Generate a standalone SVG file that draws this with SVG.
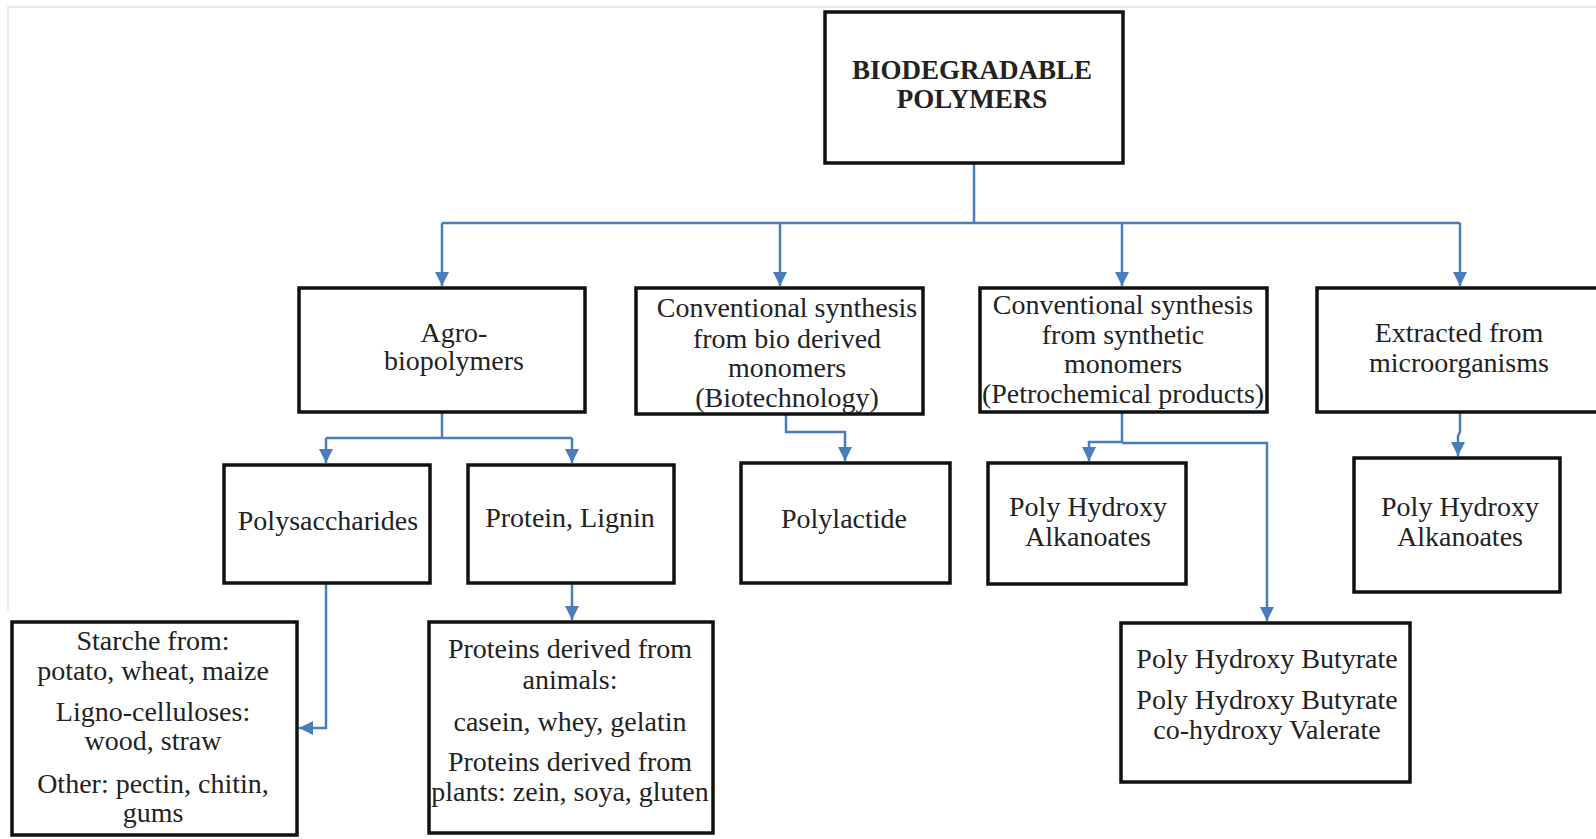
<svg xmlns="http://www.w3.org/2000/svg" width="1596" height="839" viewBox="0 0 1596 839">
<style>
.box{fill:#fff;stroke:#111;stroke-width:3.5}
.t{font-family:"Liberation Serif","Times New Roman",serif;font-size:28px;fill:#222;text-anchor:middle}
.tb{font-family:"Liberation Serif","Times New Roman",serif;font-size:27px;font-weight:bold;fill:#222;text-anchor:middle}
.c{fill:none;stroke:#4a7ebb;stroke-width:2.5}
.a{marker-end:url(#arr)}
</style>
<defs>
<marker id="arr" markerUnits="userSpaceOnUse" markerWidth="14" markerHeight="14" refX="12" refY="6" orient="auto" viewBox="0 0 12 12">
<path d="M0,0 L12,6 L0,12 z" fill="#4a7ebb"/>
</marker>
</defs>
<rect width="1596" height="839" fill="#fff"/>
<path d="M8,610 L8,7 L1596,7" fill="none" stroke="#e2e2e2" stroke-width="1.5"/>
<g id="connectors">
<path class="c" d="M974,163 L974,223"/>
<path class="c" d="M442,223 L1460,223"/>
<path class="c a" d="M442,223 L442,286"/>
<path class="c a" d="M780,223 L780,286"/>
<path class="c a" d="M1122,223 L1122,286"/>
<path class="c a" d="M1460,223 L1460,286"/>
<path class="c" d="M442,412 L442,438 M326,438 L572,438"/>
<path class="c a" d="M326,438 L326,463"/>
<path class="c a" d="M572,438 L572,463"/>
<path class="c a" d="M326,583 L326,728 L299,728"/>
<path class="c a" d="M572,583 L572,620"/>
<path class="c a" d="M786,392 L786,432 L845,432 L845,461"/>
<path class="c" d="M1122,392 L1122,443"/>
<path class="c a" d="M1122,442 L1089,442 L1089,461"/>
<path class="c a" d="M1122,443 L1267,443 L1267,621"/>
<path class="c a" d="M1460,412 L1460,432 L1458,436 L1458,456"/>
</g>
<g id="n-root"><rect class="box" x="825" y="12" width="298" height="151"/>
<text class="tb" x="972" y="79">BIODEGRADABLE</text><text class="tb" x="972" y="108">POLYMERS</text></g>
<g id="n-agro"><rect class="box" x="299" y="288" width="286" height="124"/>
<text class="t" x="454" y="342">Agro-</text><text class="t" x="454" y="370">biopolymers</text></g>
<g id="n-convbio"><rect class="box" x="636" y="288" width="287" height="126"/>
<text class="t" x="787" y="317">Conventional synthesis</text><text class="t" x="787" y="348">from bio derived</text><text class="t" x="787" y="377">monomers</text><text class="t" x="787" y="407">(Biotechnology)</text></g>
<g id="n-convsyn"><rect class="box" x="980" y="288" width="287" height="124"/>
<text class="t" x="1123" y="314">Conventional synthesis</text><text class="t" x="1123" y="344">from synthetic</text><text class="t" x="1123" y="373">monomers</text><text class="t" x="1123" y="403">(Petrochemical products)</text></g>
<g id="n-extracted"><rect class="box" x="1317" y="288" width="290" height="124"/>
<text class="t" x="1459" y="342">Extracted from</text><text class="t" x="1459" y="372">microorganisms</text></g>
<g id="n-polysacch"><rect class="box" x="224" y="465" width="206" height="118"/>
<text class="t" x="328" y="530">Polysaccharides</text></g>
<g id="n-protein"><rect class="box" x="468" y="465" width="206" height="118"/>
<text class="t" x="570" y="527">Protein, Lignin</text></g>
<g id="n-polylactide"><rect class="box" x="741" y="463" width="209" height="120"/>
<text class="t" x="844" y="528">Polylactide</text></g>
<g id="n-pha1"><rect class="box" x="988" y="463" width="198" height="121"/>
<text class="t" x="1088" y="516">Poly Hydroxy</text><text class="t" x="1088" y="546">Alkanoates</text></g>
<g id="n-pha2"><rect class="box" x="1354" y="458" width="206" height="134"/>
<text class="t" x="1460" y="516">Poly Hydroxy</text><text class="t" x="1460" y="546">Alkanoates</text></g>
<g id="n-phb"><rect class="box" x="1121" y="623" width="289" height="159"/>
<text class="t" x="1267" y="668">Poly Hydroxy Butyrate</text><text class="t" x="1267" y="709">Poly Hydroxy Butyrate</text><text class="t" x="1267" y="739">co-hydroxy Valerate</text></g>
<g id="n-starch"><rect class="box" x="12" y="622" width="285" height="213"/>
<text class="t" x="153" y="650">Starche from:</text><text class="t" x="153" y="680">potato, wheat,  maize</text><text class="t" x="153" y="721">Ligno-celluloses:</text><text class="t" x="153" y="750">wood, straw</text><text class="t" x="153" y="793">Other: pectin, chitin,</text><text class="t" x="153" y="822">gums</text></g>
<g id="n-proteins"><rect class="box" x="429" y="622" width="284" height="211"/>
<text class="t" x="570" y="658">Proteins  derived from</text><text class="t" x="570" y="689">animals:</text><text class="t" x="570" y="731">casein, whey,  gelatin</text><text class="t" x="570" y="771">Proteins derived from</text><text class="t" x="570" y="801">plants: zein, soya, gluten</text></g>
</svg>
